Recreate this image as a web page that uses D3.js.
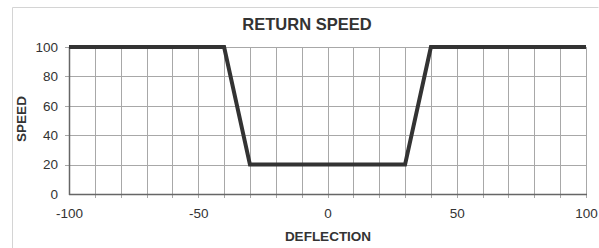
<!DOCTYPE html>
<html>
<head>
<meta charset="utf-8">
<script src="https://cdn.jsdelivr.net/npm/d3@7"></script>
<style>
  body { margin: 0; background: #fff; }
  svg { display: block; font-family: "Liberation Sans", Arial, sans-serif; }
</style>
</head>
<body>
<div id="chart"></div>
<script>
// return speed vs deflection
const deflection = [-100, -40, -30, 30, 40, 100];
const speed = [100, 100, 20, 20, 100, 100];
const xTicks = [-100, -50, 0, 50, 100];
const yTicks = [0, 20, 40, 60, 80, 100];

const w = 599, h = 248;
const plotLeft = 69, plotRight = 586, plotTop = 47, plotBottom = 194;

const svg = d3.select("#chart").append("svg")
  .attr("width", w)
  .attr("height", h);

svg.append("rect")
  .attr("width", w).attr("height", h)
  .attr("fill", "#fff");

// outer frame
svg.append("path")
  .attr("d", "M12.5," + h + "V7.5H598.5")
  .attr("fill", "none")
  .attr("stroke", "#d4d4d4");

const xScale = d3.scaleLinear().domain([-100, 100]).range([plotLeft, plotRight]);
const yScale = d3.scaleLinear().domain([0, 100]).range([plotBottom, plotTop]);

// grid
svg.append("g").selectAll("line")
  .data(d3.range(-90, 101, 10))
  .enter().append("line")
  .attr("x1", d => Math.round(xScale(d)) + 0.5)
  .attr("x2", d => Math.round(xScale(d)) + 0.5)
  .attr("y1", plotTop)
  .attr("y2", plotBottom + 4)
  .attr("stroke", "#a8a8a8");

svg.append("g").selectAll("line")
  .data(yTicks.slice(1))
  .enter().append("line")
  .attr("x1", plotLeft - 4)
  .attr("x2", plotRight)
  .attr("y1", d => Math.round(yScale(d)) + 0.5)
  .attr("y2", d => Math.round(yScale(d)) + 0.5)
  .attr("stroke", "#a8a8a8");

// axes
const xAxis = d3.axisBottom(xScale).tickValues(xTicks).tickSize(0).tickPadding(14)
  .tickFormat(d => String(d));
const yAxis = d3.axisLeft(yScale).tickValues(yTicks).tickSize(0).tickPadding(11)
  .tickFormat(d => String(d));

const gx = svg.append("g")
  .attr("transform", "translate(0," + plotBottom + ")")
  .call(xAxis);
const gy = svg.append("g")
  .attr("transform", "translate(" + plotLeft + ",0)")
  .call(yAxis);

[gx, gy].forEach(g => {
  g.select(".domain").remove();
  g.selectAll("text")
    .attr("fill", "#333")
    .style("font-size", "13.5px");
});

svg.append("line")
  .attr("x1", plotLeft).attr("x2", plotRight + 1)
  .attr("y1", plotBottom + 0.5).attr("y2", plotBottom + 0.5)
  .attr("stroke", "#666").attr("stroke-width", 1.5);
svg.append("line")
  .attr("x1", plotLeft + 0.5).attr("x2", plotLeft + 0.5)
  .attr("y1", plotTop).attr("y2", plotBottom + 1)
  .attr("stroke", "#666").attr("stroke-width", 1.5);

// data line
const line = d3.line()
  .x((d, i) => xScale(deflection[i]))
  .y((d, i) => yScale(speed[i]));

svg.append("path")
  .datum(speed)
  .attr("d", line)
  .attr("fill", "none")
  .attr("stroke", "#333")
  .attr("stroke-width", 4)
  .attr("stroke-linejoin", "miter");

// titles
svg.append("text")
  .attr("x", 307).attr("y", 30)
  .attr("text-anchor", "middle")
  .attr("fill", "#333")
  .style("font-size", "16.5px")
  .style("font-weight", "bold")
  .text("RETURN SPEED");

svg.append("text")
  .attr("x", 328).attr("y", 241)
  .attr("text-anchor", "middle")
  .attr("fill", "#333")
  .style("font-size", "13.5px")
  .style("font-weight", "bold")
  .text("DEFLECTION");

svg.append("text")
  .attr("transform", "translate(26,119) rotate(-90)")
  .attr("text-anchor", "middle")
  .attr("fill", "#333")
  .style("font-size", "13.5px")
  .style("font-weight", "bold")
  .text("SPEED");
</script>
</body>
</html>
